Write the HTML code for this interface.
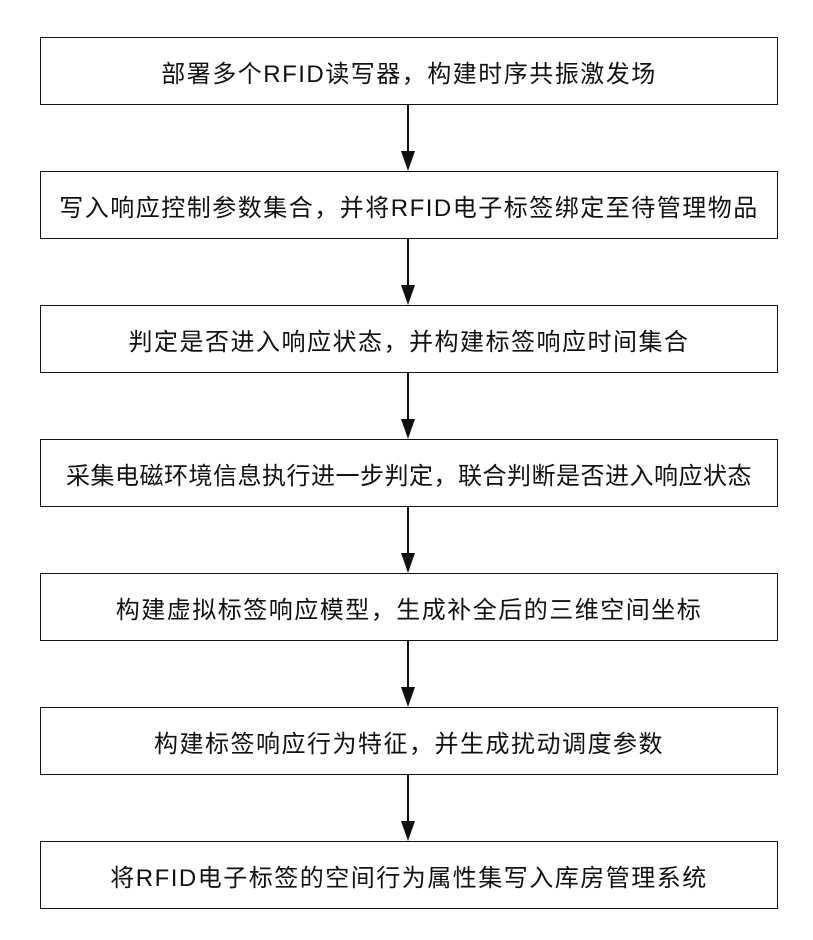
<!DOCTYPE html>
<html><head><meta charset="utf-8"><style>
body{margin:0;width:813px;height:940px;background:#fff;position:relative;font-family:"Liberation Sans","Noto Sans CJK SC",sans-serif;overflow:hidden}
.b{position:absolute;left:40px;width:736px;height:66px;border:1.5px solid #111;display:flex;align-items:center;justify-content:center;font-size:24px;color:#111;letter-spacing:1.5px;white-space:nowrap}
.l{position:absolute;left:407px;width:1.5px;background:#111}
.a{position:absolute;left:401px;width:0;height:0;border-left:7px solid transparent;border-right:7px solid transparent;border-top:20px solid #111}
</style></head><body>
<div class="b" style="top:37px">部署多个RFID读写器，构建时序共振激发场</div>
<div class="b" style="top:171px">写入响应控制参数集合，并将RFID电子标签绑定至待管理物品</div>
<div class="b" style="top:305px">判定是否进入响应状态，并构建标签响应时间集合</div>
<div class="b" style="top:439px;letter-spacing:0.5px">采集电磁环境信息执行进一步判定，联合判断是否进入响应状态</div>
<div class="b" style="top:573px">构建虚拟标签响应模型，生成补全后的三维空间坐标</div>
<div class="b" style="top:707px">构建标签响应行为特征，并生成扰动调度参数</div>
<div class="b" style="top:841px">将RFID电子标签的空间行为属性集写入库房管理系统</div>
<div class="l" style="top:105px;height:50px"></div><div class="a" style="top:151px"></div>
<div class="l" style="top:239px;height:50px"></div><div class="a" style="top:285px"></div>
<div class="l" style="top:373px;height:50px"></div><div class="a" style="top:419px"></div>
<div class="l" style="top:507px;height:50px"></div><div class="a" style="top:553px"></div>
<div class="l" style="top:641px;height:50px"></div><div class="a" style="top:687px"></div>
<div class="l" style="top:775px;height:50px"></div><div class="a" style="top:821px"></div>
</body></html>
